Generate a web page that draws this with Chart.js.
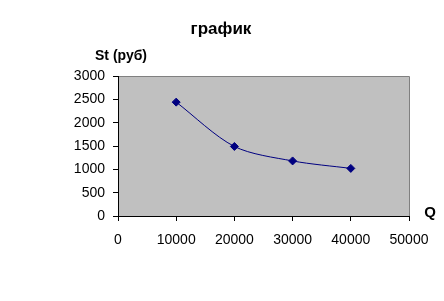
<!DOCTYPE html>
<html>
<head>
<meta charset="utf-8">
<script src="https://cdn.jsdelivr.net/npm/chart.js@4"></script>
<style>
  html, body { margin: 0; padding: 0; background: #fff; }
  #wrap { width: 444px; height: 301px; }
</style>
</head>
<body>
<div id="wrap"><canvas id="chart" width="444" height="301"></canvas></div>
<script>
const qValues = [10000, 20000, 30000, 40000];
const stValues = [2440, 1490, 1180, 1020];
const xTicks = [0, 10000, 20000, 30000, 40000, 50000];
const yTicks = [0, 500, 1000, 1500, 2000, 2500, 3000];

const titleText = "график";
const yTitle = "St (руб)";
const xTitle = "Q";

// gray plot area with the gray frame on top and right
const plotArea = {
  id: "plotArea",
  beforeDraw(chart) {
    const { ctx, chartArea: a } = chart;
    ctx.save();
    ctx.fillStyle = "#c0c0c0";
    ctx.fillRect(a.left, a.top, a.right - a.left, a.bottom - a.top);
    ctx.strokeStyle = "#808080";
    ctx.lineWidth = 1;
    ctx.beginPath();
    ctx.moveTo(a.left, a.top + 0.5);
    ctx.lineTo(a.right + 0.5, a.top + 0.5);
    ctx.lineTo(a.right + 0.5, a.bottom);
    ctx.stroke();
    ctx.restore();
  },
  afterDraw(chart) {
    const { ctx } = chart;
    ctx.save();
    ctx.fillStyle = "#000";
    ctx.textAlign = "center";
    ctx.textBaseline = "alphabetic";
    ctx.font = "bold 17px 'Liberation Sans', Arial, sans-serif";
    ctx.fillText(titleText, 221, 34);
    ctx.font = "bold 14px 'Liberation Sans', Arial, sans-serif";
    ctx.fillText(yTitle, 121, 60);
    ctx.font = "bold 15px 'Liberation Sans', Arial, sans-serif";
    ctx.fillText(xTitle, 430, 217);
    ctx.restore();
  }
};

const tickFont = { family: "'Liberation Sans', Arial, sans-serif", size: 14 };

new Chart(document.getElementById("chart"), {
  type: "line",
  data: {
    datasets: [{
      data: qValues.map((q, i) => ({ x: q, y: stValues[i] })),
      borderColor: "#000080",
      backgroundColor: "#000080",
      borderWidth: 1,
      tension: 0.3,
      pointStyle: "rectRot",
      pointRadius: 4,
      pointHoverRadius: 4,
      fill: false
    }]
  },
  options: {
    responsive: false,
    animation: false,
    layout: { padding: { top: 76, right: 35, left: 0, bottom: 0 } },
    plugins: { legend: { display: false }, tooltip: { enabled: false } },
    scales: {
      x: {
        type: "linear",
        min: 0,
        max: 50000,
        afterBuildTicks: (s) => { s.ticks = xTicks.map(v => ({ value: v })); },
        afterFit: (s) => { s.height = 85; },
        border: { color: "#000", width: 1 },
        grid: { drawOnChartArea: false, tickLength: 5, color: "#000" },
        ticks: { color: "#000", font: tickFont, padding: 11, maxRotation: 0, callback: (v) => String(v) }
      },
      y: {
        min: 0,
        max: 3000,
        afterBuildTicks: (s) => { s.ticks = yTicks.map(v => ({ value: v })); },
        afterFit: (s) => { s.width = 118; },
        border: { color: "#000", width: 1 },
        grid: { drawOnChartArea: false, tickLength: 5, color: "#000" },
        ticks: { color: "#000", font: tickFont, padding: 8, callback: (v) => String(v) }
      }
    }
  },
  plugins: [plotArea]
});
</script>
</body>
</html>
